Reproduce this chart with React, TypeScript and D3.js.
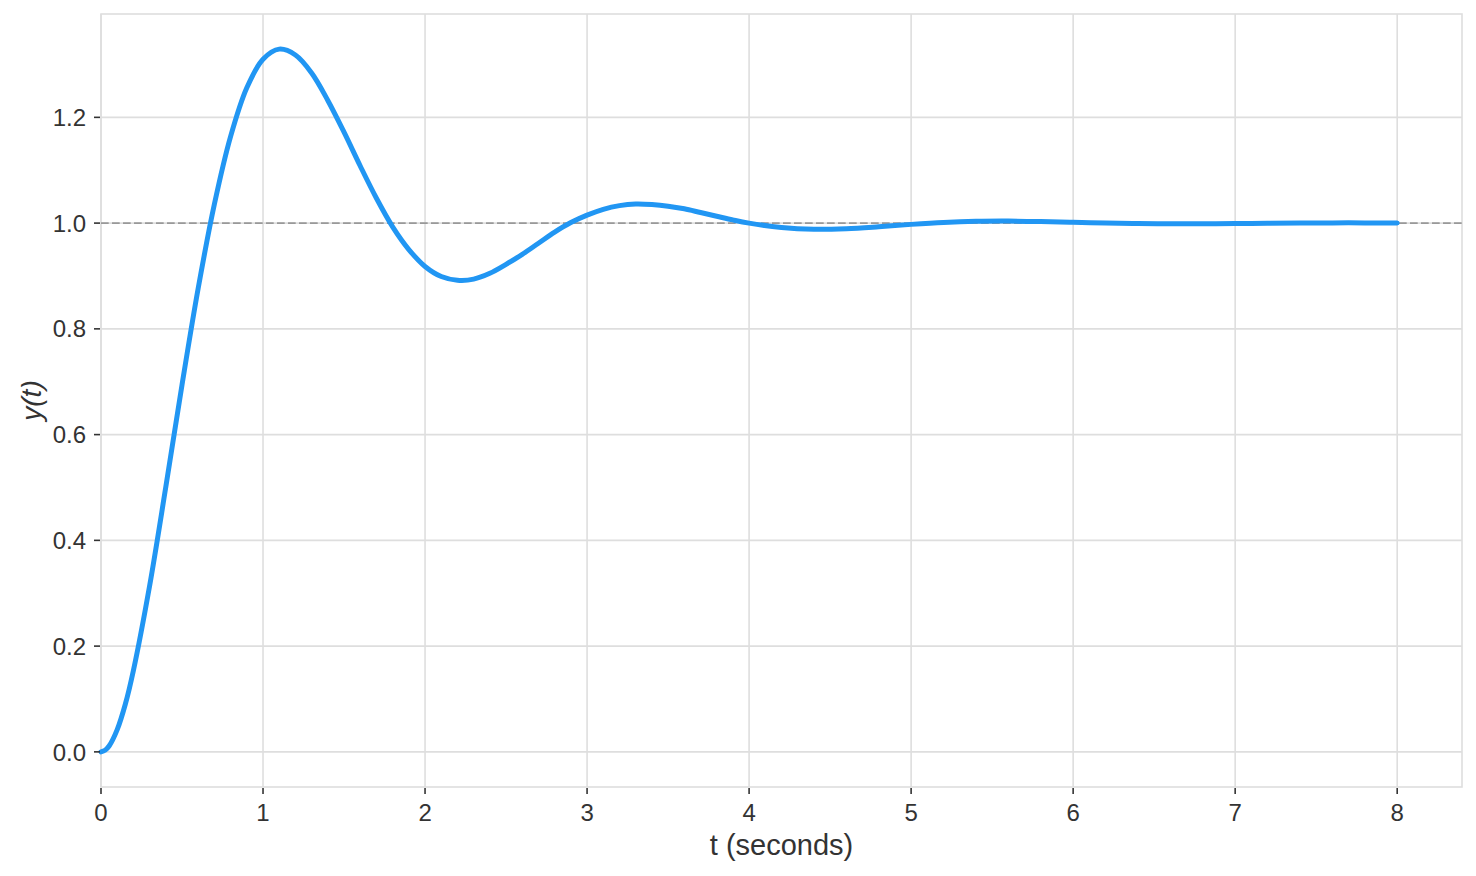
import React from 'react';
import * as d3 from 'd3';

// step response samples
const TIME = [
  0, 0.025, 0.05, 0.1, 0.15, 0.2, 0.3, 0.4, 0.5, 0.6, 0.7, 0.8, 0.9,
  1.0, 1.1, 1.2, 1.3, 1.4, 1.5, 1.6, 1.7, 1.8, 1.9,
  2.0, 2.1, 2.2, 2.3, 2.4, 2.5, 2.6, 2.7, 2.8, 2.9,
  3.0, 3.1, 3.2, 3.3, 3.4, 3.5, 3.6, 3.7, 3.8, 3.9,
  4.0, 4.2, 4.4, 4.6, 4.8, 5.0, 5.2, 5.4, 5.6, 5.8,
  6.0, 6.2, 6.4, 6.6, 6.8, 7.0, 7.2, 7.4, 7.6, 7.8, 8.0,
];
const RESPONSE = [
  0.0, 0.003, 0.011, 0.042, 0.09, 0.154, 0.314, 0.501, 0.694, 0.877, 1.036, 1.164, 1.256,
  1.31, 1.329, 1.318, 1.284, 1.232, 1.172, 1.108, 1.047, 0.993, 0.95,
  0.918, 0.899, 0.892, 0.894, 0.905, 0.922, 0.941, 0.962, 0.983, 1.001,
  1.015, 1.026, 1.033, 1.036, 1.035, 1.032, 1.027, 1.02, 1.013, 1.006,
  1.0, 0.9917, 0.9883, 0.9894, 0.9931, 0.9976, 1.0013, 1.0034, 1.0038, 1.003,
  1.0016, 1.0002, 0.9992, 0.9988, 0.9988, 0.9992, 0.9997, 1.0001, 1.0004, 1.0004, 1.0003,
];
const SETPOINT = 1.0;
const X_TICKS = [0, 1, 2, 3, 4, 5, 6, 7, 8];
const Y_TICKS = [0, 0.2, 0.4, 0.6, 0.8, 1.0, 1.2];

const WIDTH = 1476;
const HEIGHT = 876;
const margin = { top: 14, right: 14, bottom: 89, left: 101 };
const FONT = "'Liberation Sans', Arial, sans-serif";
const TEXT = '#333333';
const GRID = '#dedede';

export default function App() {
  const x0 = margin.left;
  const x1 = WIDTH - margin.right;
  const y0 = HEIGHT - margin.bottom;
  const y1 = margin.top;

  const tMax = d3.max(TIME) ?? 8;
  const [vMin, vMax] = d3.extent(RESPONSE) as [number, number];
  const pad = (vMax - vMin) * 0.05;

  const x = d3.scaleLinear().domain([0, tMax * 1.05]).range([x0, x1]);
  const y = d3.scaleLinear().domain([vMin - pad, vMax + pad]).range([y0, y1]);

  const points = TIME.map((t, i) => [t, RESPONSE[i]] as [number, number]);
  const line = d3
    .line<[number, number]>()
    .x((d) => x(d[0]))
    .y((d) => y(d[1]))
    .curve(d3.curveCatmullRom.alpha(0.5));

  return (
    <svg width={WIDTH} height={HEIGHT} style={{ display: 'block' }} fontFamily={FONT}>
      <style>{`body{margin:0}`}</style>
      <rect x={0} y={0} width={WIDTH} height={HEIGHT} fill="#ffffff" />

      {/* grid */}
      {X_TICKS.map((t) => (
        <line key={`gx${t}`} x1={x(t)} x2={x(t)} y1={y1} y2={y0} stroke={GRID} strokeWidth={1.6} />
      ))}
      {Y_TICKS.map((v) => (
        <line key={`gy${v}`} x1={x0} x2={x1} y1={y(v)} y2={y(v)} stroke={GRID} strokeWidth={1.6} />
      ))}

      {/* frame */}
      <rect x={x0} y={y1} width={x1 - x0} height={y0 - y1} fill="none" stroke={GRID} strokeWidth={1.6} />

      {/* setpoint */}
      <line
        x1={x0}
        x2={x1}
        y1={y(SETPOINT)}
        y2={y(SETPOINT)}
        stroke="#999999"
        strokeWidth={1.8}
        strokeDasharray="7.7 3.3"
      />

      {/* response */}
      <path d={line(points) ?? ''} fill="none" stroke="#2196f3" strokeWidth={5} strokeLinejoin="round" strokeLinecap="round" />

      {/* x ticks */}
      {X_TICKS.map((t) => (
        <g key={`tx${t}`} transform={`translate(${x(t)},${y0})`}>
          <line y1={1} y2={7} stroke={TEXT} strokeWidth={1.6} />
          <text y={34} textAnchor="middle" fontSize={24} fill={TEXT}>
            {t}
          </text>
        </g>
      ))}

      {/* y ticks */}
      {Y_TICKS.map((v) => (
        <g key={`ty${v}`} transform={`translate(${x0},${y(v)})`}>
          <line x1={-1} x2={-7} stroke={TEXT} strokeWidth={1.6} />
          <text x={-15} dy="0.36em" textAnchor="end" fontSize={24} fill={TEXT}>
            {d3.format('.1f')(v)}
          </text>
        </g>
      ))}

      {/* axis labels */}
      <text x={(x0 + x1) / 2} y={855} textAnchor="middle" fontSize={29} fill={TEXT}>
        t (seconds)
      </text>
      <text
        transform={`translate(41,${(y0 + y1) / 2}) rotate(-90)`}
        textAnchor="middle"
        fontSize={28}
        fontStyle="italic"
        fill={TEXT}
      >
        y(t)
      </text>
    </svg>
  );
}
